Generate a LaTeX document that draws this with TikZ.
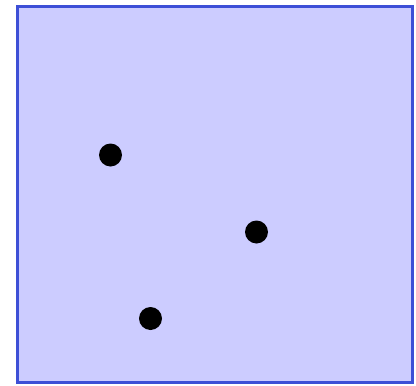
\documentclass[tikz,border=0pt]{standalone}
\definecolor{boxfill}{HTML}{CCCCFF}
\definecolor{boxline}{HTML}{3D4FD6}
\begin{document}
\begin{tikzpicture}[x=1pt,y=-1pt,
  dot/.style={circle,fill=black,inner sep=0pt,minimum size=23pt}]
\useasboundingbox (0,0) rectangle (416,386);
\draw[boxline,fill=boxfill,line width=3pt] (17,6) rectangle (412,382);
\node[dot] (p1) at (110.5,155) {};
\node[dot] (p2) at (256.5,232) {};
\node[dot] (p3) at (150.5,318.5) {};
\end{tikzpicture}
\end{document}
